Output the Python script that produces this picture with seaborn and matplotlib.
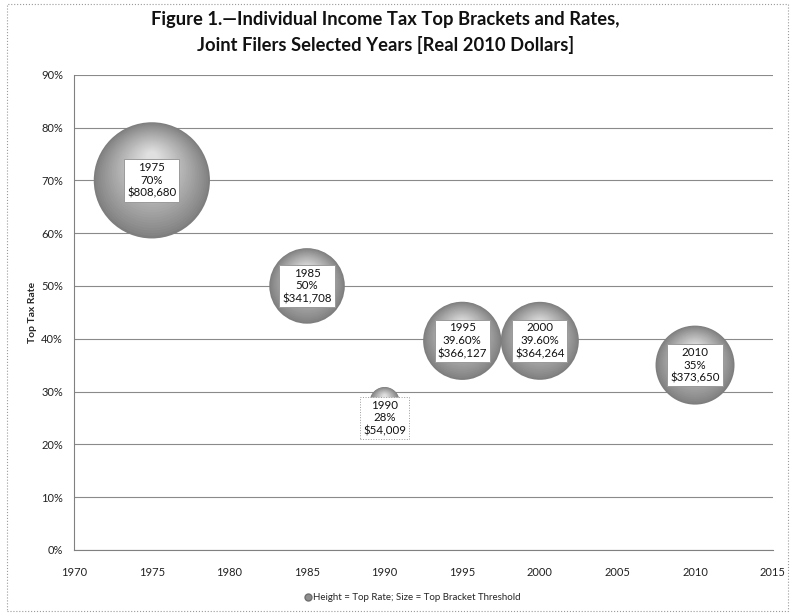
import matplotlib
matplotlib.use("Agg")
import matplotlib.pyplot as plt
import matplotlib.transforms as mtransforms
from matplotlib.patches import Rectangle
from matplotlib.lines import Line2D
import numpy as np
import pandas as pd
import seaborn as sns

# Top bracket data, joint filers, real 2010 dollars
years = [1975, 1985, 1990, 1995, 2000, 2010]
top_rates = [70.0, 50.0, 28.0, 39.6, 39.6, 35.0]
thresholds = [808680, 341708, 54009, 366127, 364264, 373650]
rate_labels = ["70%", "50%", "28%", "39.60%", "39.60%", "35%"]

df = pd.DataFrame({"year": years, "rate": top_rates, "threshold": thresholds})

sns.set_theme(style="white")
plt.rcParams["font.family"] = ["Lato", "DejaVu Sans"]

fig = plt.figure(figsize=(7.9, 6.13), dpi=100)
ax = fig.add_axes([0.094, 0.103, 0.884, 0.775])

# bubble area proportional to the bracket threshold
area_per_dollar = 7000.0 / max(thresholds)
size_range = (min(thresholds) * area_per_dollar, max(thresholds) * area_per_dollar)

sns.scatterplot(data=df, x="year", y="rate", size="threshold", sizes=size_range,
                color="#7e7e7e", edgecolor="none", legend=False, ax=ax, zorder=3)

# shaded layers that give each bubble a lit, spherical look
n_layers = 30
for x, y, s in zip(df["year"], df["rate"], df["threshold"] * area_per_dollar):
    radius_pt = np.sqrt(s) / 2.0
    for i in range(1, n_layers):
        t = i / (n_layers - 1)
        frac = 1.0 - 0.9 * t
        shade = 0.50 + 0.38 * t ** 0.9
        tr = mtransforms.offset_copy(ax.transData, fig=fig, x=0,
                                     y=0.4 * radius_pt * t, units="points")
        ax.scatter([x], [y], s=s * frac ** 2, color=str(shade),
                   edgecolors="none", transform=tr, zorder=3 + t)

# value labels in white boxes
for yr, rate, thr, rl in zip(years, top_rates, thresholds, rate_labels):
    dy = -3.0 if yr == 1990 else 0.0
    ls = ":" if yr == 1990 else "-"
    ax.text(yr, rate + dy, f"{yr}\n{rl}\n${thr:,}", ha="center", va="center",
            fontsize=8.3, linespacing=1.2, color="#111111", zorder=10,
            bbox=dict(boxstyle="square,pad=0.25", fc="white",
                      ec="#9a9a9a", lw=0.7, ls=ls))

ax.set_xlim(1970, 2015)
ax.set_ylim(0, 90)
ax.set_xticks(range(1970, 2016, 5))
ax.set_yticks(range(0, 91, 10))
ax.set_yticklabels([f"{v}%" for v in range(0, 91, 10)])
ax.tick_params(axis="both", labelsize=8, colors="#222222")
ax.tick_params(axis="y", direction="out", length=4, width=0.7, color="#808080", pad=4)
ax.tick_params(axis="x", direction="out", length=3, width=0.7, color="#808080", pad=9)
ax.set_axisbelow(True)
ax.yaxis.grid(True, color="#8a8a8a", lw=0.8)
ax.xaxis.grid(False)
for side in ("top", "right"):
    ax.spines[side].set_visible(False)
for side in ("left", "bottom"):
    ax.spines[side].set_color("#808080")
    ax.spines[side].set_linewidth(0.8)

ax.set_xlabel("")
ax.set_ylabel("Top Tax Rate", fontsize=7.5, fontweight="bold", labelpad=3)

fig.text(0.488, 0.982, "Figure 1.\u2014Individual Income Tax Top Brackets and Rates,\n"
         "Joint Filers Selected Years [Real 2010 Dollars]",
         ha="center", va="top", fontsize=13.2, fontweight="bold",
         linespacing=1.5, color="#111111")

handle = Line2D([], [], marker="o", ls="none", markersize=5,
                markerfacecolor="#8f8f8f", markeredgecolor="#6f6f6f")
fig.legend([handle], ["Height = Top Rate; Size = Top Bracket Threshold"],
           loc="center", bbox_to_anchor=(0.522, 0.025), frameon=False,
           fontsize=7, handletextpad=0.2, handlelength=0.8)

fig.patches.append(Rectangle((0.009, 0.004), 0.988, 0.99, transform=fig.transFigure,
                             fill=False, ls=":", lw=0.8, ec="#9a9a9a"))

fig.savefig("out.png", dpi=100)
